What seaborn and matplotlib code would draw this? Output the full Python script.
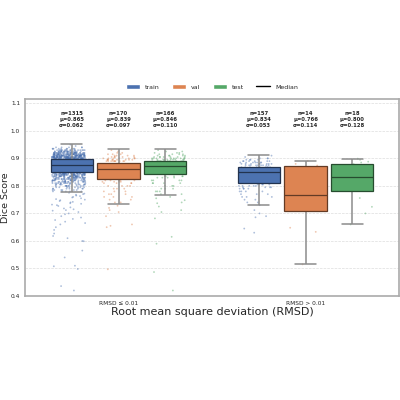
import numpy as np
import pandas as pd
import seaborn as sns
import matplotlib.pyplot as plt
import matplotlib.colors as mcolors
from matplotlib.patches import Patch
from matplotlib.lines import Line2D

np.random.seed(3)

groups = ["RMSD ≤ 0.01", "RMSD > 0.01"]
splits = ["train", "val", "test"]
colors = ["#4c72b0", "#dd8452", "#55a868"]

# box stats: low whisker, q1, median, q3, high whisker
box_lo_train = [0.778, 0.850, 0.875, 0.897, 0.952]
box_lo_val = [0.736, 0.825, 0.861, 0.885, 0.934]
box_lo_test = [0.768, 0.842, 0.871, 0.892, 0.934]
box_hi_train = [0.729, 0.810, 0.850, 0.870, 0.913]
box_hi_val = [0.515, 0.710, 0.766, 0.874, 0.891]
box_hi_test = [0.660, 0.782, 0.834, 0.879, 0.899]

n_counts = [1315, 170, 166, 157, 14, 18]
means = [0.865, 0.839, 0.846, 0.834, 0.766, 0.800]
stds = [0.062, 0.097, 0.110, 0.053, 0.114, 0.128]

# points: dense part as (value, count), sparse tails listed one by one
lo_train_vals = [0.95, 0.945, 0.94, 0.935, 0.93, 0.925, 0.92, 0.915, 0.91, 0.905, 0.90,
                 0.895, 0.89, 0.885, 0.88, 0.87, 0.865, 0.86, 0.855,
                 0.845, 0.84, 0.835, 0.83, 0.825, 0.82, 0.815, 0.81, 0.805, 0.80,
                 0.795, 0.79, 0.785, 0.78]
lo_train_cnts = [1, 1, 5, 10, 17, 25, 35, 45, 55, 65, 70,
                 74, 85, 85, 85, 79, 80, 85, 85,
                 45, 40, 35, 30, 26, 22, 18, 15, 12, 10,
                 8, 7, 6, 5]
lo_train_tail = [0.775, 0.772, 0.77, 0.768, 0.765, 0.763, 0.76, 0.758, 0.755, 0.752,
                 0.75, 0.748, 0.745, 0.742, 0.74, 0.737, 0.735, 0.732, 0.73, 0.727,
                 0.722, 0.718, 0.715, 0.712, 0.71, 0.705, 0.70, 0.697, 0.69, 0.685,
                 0.68, 0.676, 0.67, 0.665, 0.66, 0.65, 0.64, 0.627, 0.618, 0.61,
                 0.60, 0.599, 0.565, 0.54, 0.51, 0.508, 0.498, 0.436, 0.42]

lo_val_vals = [0.93, 0.925, 0.92, 0.915, 0.91, 0.905, 0.90, 0.895, 0.89,
               0.88, 0.875, 0.87, 0.865, 0.85, 0.84, 0.835, 0.83,
               0.82, 0.815, 0.81, 0.80, 0.79, 0.78, 0.77, 0.76, 0.75, 0.74]
lo_val_cnts = [1, 1, 2, 3, 4, 5, 7, 9, 10,
               10, 11, 11, 11, 11, 11, 11, 10,
               5, 4, 4, 4, 3, 3, 3, 3, 2, 2]
lo_val_tail = [0.728, 0.72, 0.712, 0.705, 0.69, 0.66, 0.655, 0.65, 0.497]

lo_test_vals = [0.93, 0.925, 0.92, 0.915, 0.91, 0.905, 0.90, 0.895,
                0.89, 0.885, 0.88, 0.875, 0.865, 0.86, 0.85, 0.845,
                0.835, 0.83, 0.82, 0.81, 0.80, 0.79, 0.78, 0.77]
lo_test_cnts = [1, 2, 3, 4, 5, 7, 9, 10,
                10, 10, 11, 11, 10, 11, 11, 10,
                5, 4, 4, 4, 3, 3, 3, 2]
lo_test_tail = [0.76, 0.755, 0.748, 0.74, 0.737, 0.725, 0.712, 0.705, 0.682,
                0.615, 0.59, 0.487, 0.42]

hi_train_vals = [0.91, 0.905, 0.90, 0.895, 0.89, 0.885, 0.88, 0.875,
                 0.868, 0.865, 0.86, 0.855, 0.845, 0.835, 0.825, 0.815,
                 0.805, 0.80, 0.795, 0.79, 0.78, 0.77, 0.76, 0.75, 0.74, 0.73]
hi_train_cnts = [1, 1, 3, 4, 6, 7, 8, 9,
                 9, 10, 10, 10, 10, 10, 10, 10,
                 5, 5, 4, 4, 4, 3, 3, 2, 2, 1]
hi_train_tail = [0.712, 0.70, 0.69, 0.686, 0.645, 0.63]

hi_val_pts = [0.891, 0.88, 0.874, 0.86, 0.84, 0.80, 0.78, 0.766, 0.75, 0.72,
              0.71, 0.648, 0.633, 0.515]
hi_test_pts = [0.899, 0.895, 0.888, 0.885, 0.879, 0.87, 0.86, 0.845, 0.834,
               0.825, 0.81, 0.80, 0.79, 0.782, 0.756, 0.724, 0.70, 0.66]

point_sets = [
    (groups[0], "train", list(np.repeat(lo_train_vals, lo_train_cnts)) + lo_train_tail),
    (groups[0], "val", list(np.repeat(lo_val_vals, lo_val_cnts)) + lo_val_tail),
    (groups[0], "test", list(np.repeat(lo_test_vals, lo_test_cnts)) + lo_test_tail),
    (groups[1], "train", list(np.repeat(hi_train_vals, hi_train_cnts)) + hi_train_tail),
    (groups[1], "val", hi_val_pts),
    (groups[1], "test", hi_test_pts),
]
box_sets = [
    (groups[0], "train", box_lo_train), (groups[0], "val", box_lo_val),
    (groups[0], "test", box_lo_test), (groups[1], "train", box_hi_train),
    (groups[1], "val", box_hi_val), (groups[1], "test", box_hi_test),
]

pts = pd.DataFrame([(g, s, v) for g, s, vals in point_sets for v in vals],
                   columns=["rmsd", "split", "dice"])
boxes = pd.DataFrame([(g, s, v) for g, s, vals in box_sets for v in vals],
                     columns=["rmsd", "split", "dice"])

sns.set_style("white")
fig = plt.figure(figsize=(4, 4), dpi=100)
ax = fig.add_axes([0.0625, 0.26, 0.935, 0.492])

sns.boxplot(data=boxes, x="rmsd", y="dice", hue="split", order=groups,
            hue_order=splits, palette=colors, saturation=1, width=0.75, gap=0.1,
            whis=(0, 100), showfliers=False, ax=ax, legend=False,
            whiskerprops=dict(color="#8c8c8c", linewidth=1.1),
            capprops=dict(color="#8c8c8c", linewidth=1.1),
            boxprops=dict(linewidth=0.9),
            medianprops=dict(linewidth=0.9))

for cont, col in zip(ax.containers, colors):
    dark = tuple(np.array(mcolors.to_rgb(col)) * 0.45)
    for b in cont.boxes:
        b.set_edgecolor(dark)
        b.set_zorder(5)
    for m in cont.medians:
        m.set_color(dark)
        m.set_zorder(6)
    for w in list(cont.whiskers) + list(cont.caps):
        w.set_zorder(4)

n_before = len(ax.collections)
sns.stripplot(data=pts, x="rmsd", y="dice", hue="split", order=groups,
              hue_order=splits, palette=colors, dodge=True, jitter=0.27,
              size=1.3, alpha=0.45, linewidth=0, ax=ax, legend=False)
for c in ax.collections[n_before:]:
    c.set_zorder(0.8)

for i in range(len(groups)):
    for j in range(len(splits)):
        k = i * 3 + j
        ax.text(i + (j - 1) * 0.25, 1.041,
                f"n={n_counts[k]}\nμ={means[k]:.3f}\nσ={stds[k]:.3f}",
                ha="center", va="center", fontsize=3.8, fontweight="bold",
                linespacing=1.15)

ax.set_xlim(-0.5, 1.5)
ax.set_ylim(0.4, 1.115)
ax.set_yticks(np.arange(0.4, 1.11, 0.1))
ax.yaxis.grid(True, linestyle="--", linewidth=0.5, color="#dddddd", zorder=0)
ax.set_axisbelow(True)
ax.tick_params(labelsize=4.2, length=2, width=0.6, color="#999999", pad=1.5)
for sp in ax.spines.values():
    sp.set_color("#aaaaaa")
    sp.set_linewidth(1.2)
ax.set_xlabel("Root mean square deviation (RMSD)", fontsize=8, labelpad=1)
ax.set_ylabel("Dice Score", fontsize=6.8)
ax.yaxis.set_label_coords(-0.039, 0.5)

handles = [Patch(facecolor=c, label=s) for c, s in zip(colors, splits)]
handles.append(Line2D([0], [0], color="black", linewidth=1, label="Median"))
ax.legend(handles=handles, loc="lower center", bbox_to_anchor=(0.5, 1.02),
          ncol=4, frameon=False, fontsize=4.5, handlelength=2.2,
          handleheight=0.8, columnspacing=2.0)

fig.savefig("out.png", dpi=100)
